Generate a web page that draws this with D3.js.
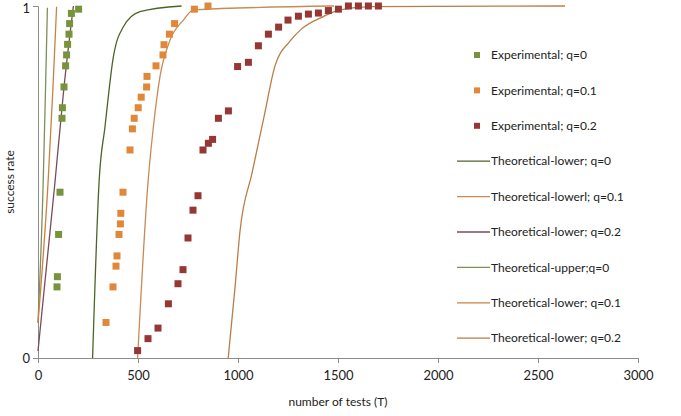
<!DOCTYPE html>
<html>
<head>
<meta charset="utf-8">
<script src="https://cdn.jsdelivr.net/npm/d3@7"></script>
<style>
  body { margin: 0; background: #fff; }
  text { font-family: Lato, "Open Sans", sans-serif; }
</style>
</head>
<body>
<svg id="chart" width="681" height="416"></svg>
<script>
// experimental points [tests, success rate]
var expQ0 = [[203,0.991],[167,0.979],[158,0.950],[155,0.920],[148,0.891],[143,0.861],[138,0.830],
    [130,0.770],[122,0.711],[120,0.681],[110,0.471],[103,0.351],[97,0.231],[95,0.202]];
var expQ01 = [[850,1.0],[782,0.991],[683,0.950],[657,0.920],[630,0.890],[625,0.861],[590,0.830],
    [545,0.800],[543,0.770],[516,0.741],[501,0.711],[481,0.681],[472,0.651],[460,0.591],
    [425,0.471],[414,0.411],[412,0.381],[405,0.351],[395,0.290],[390,0.261],[375,0.202],[340,0.101]];
var expQ02 = [[498,0.021],[550,0.055],[600,0.085],[652,0.154],[700,0.211],[725,0.251],[750,0.341],
    [775,0.420],[800,0.461],[825,0.591],[852,0.610],[873,0.621],[902,0.681],[952,0.702],
    [998,0.828],[1052,0.840],[1102,0.887],[1152,0.920],[1203,0.940],[1250,0.960],[1302,0.971],
    [1352,0.977],[1402,0.980],[1452,0.987],[1502,0.991],[1552,1.0],[1602,1.0],[1652,1.0],[1702,1.0]];

// theoretical curves
var lowerQ0 = [[273,0],[306,0.506],[335,0.657],[377,0.856],[427,0.941],[510,0.984],[718,1.0]];
var lowerlQ01 = [[498,0],[551,0.506],[577,0.657],[610,0.8],[660,0.903],[727,0.96],[777,0.989],[1480,1.0]];
var lowerQ02a = [[0,0.02],[85,0.5],[130,0.77],[177,1.0]];
var upperQ0 = [[0,0.1],[26,0.5],[37,0.75],[47,0.995]];
var lowerQ01 = [[0,0.1],[51,0.506],[75,0.77],[93,0.998]];
var lowerQ02b = [[951,0],[985,0.2],[1010,0.36],[1070,0.525],[1130,0.685],[1185,0.83],[1260,0.9],
    [1318,0.935],[1427,0.97],[1510,0.989],[1677,0.998],[2635,1.0]];

var xTicks = [0, 500, 1000, 1500, 2000, 2500, 3000];
var yTicks = [0, 1];

var legendNames = ['Experimental; q=0', 'Experimental; q=0.1', 'Experimental; q=0.2',
    'Theoretical-lower; q=0', 'Theoretical-lowerl; q=0.1', 'Theoretical-lower; q=0.2',
    'Theoretical-upper;q=0', 'Theoretical-lower; q=0.1', 'Theoretical-lower; q=0.2'];

var svg = d3.select('#chart');
var x = d3.scaleLinear().domain([0, 3000]).range([38, 638]);
var y = d3.scaleLinear().domain([0, 1]).range([358, 6]);

var scatters = [
    {name: legendNames[0], data: expQ0, color: '#77933c'},
    {name: legendNames[1], data: expQ01, color: '#e0873a'},
    {name: legendNames[2], data: expQ02, color: '#953735'}
];
var lines = [
    {name: legendNames[3], data: lowerQ0, color: '#4f6228'},
    {name: legendNames[4], data: lowerlQ01, color: '#c98a55'},
    {name: legendNames[5], data: lowerQ02a, color: '#7b4a5c'},
    {name: legendNames[6], data: upperQ0, color: '#7f8f5a'},
    {name: legendNames[7], data: lowerQ01, color: '#c8823e'},
    {name: legendNames[8], data: lowerQ02b, color: '#b97d48'}
];

// axes
var axisColor = '#8c8c8c';
var xAxis = svg.append('g')
    .attr('transform', 'translate(0,358)')
    .call(d3.axisBottom(x).tickValues(xTicks).tickSizeOuter(0).tickSize(5).tickPadding(8).tickFormat(d3.format('d')));
var yAxis = svg.append('g')
    .attr('transform', 'translate(38,0)')
    .call(d3.axisLeft(y).tickValues(yTicks).tickSizeOuter(0).tickSize(5).tickPadding(3).tickFormat(d3.format('d')));
[xAxis, yAxis].forEach(function(a) {
    a.attr('font-size', null).attr('font-family', null);
    a.select('.domain').attr('stroke', axisColor);
    a.selectAll('.tick line').attr('stroke', axisColor);
    a.selectAll('.tick text').attr('fill', '#222').style('font-size', '13px');
});
// keep the top "1" inside the picture
yAxis.selectAll('.tick text').attr('dy', d => d === 1 ? '0.5em' : '0.35em');

svg.append('text')
    .attr('x', 338).attr('y', 406)
    .attr('text-anchor', 'middle')
    .style('font-size', '12px')
    .attr('fill', '#222')
    .text('number of tests (T)');
svg.append('text')
    .attr('transform', 'translate(14,182) rotate(-90)')
    .attr('text-anchor', 'middle')
    .style('font-size', '12px')
    .attr('fill', '#222')
    .text('success rate');

// theoretical lines, smoothed like the spreadsheet
var line = d3.line().curve(d3.curveMonotoneX).x(d => x(d[0])).y(d => y(d[1]));
svg.append('g').selectAll('path')
    .data(lines)
    .join('path')
    .attr('fill', 'none')
    .attr('stroke', d => d.color)
    .attr('stroke-width', 1.3)
    .attr('d', d => line(d.data));

// experimental squares
scatters.forEach(function(s) {
    svg.append('g').selectAll('rect')
        .data(s.data)
        .join('rect')
        .attr('x', d => x(d[0]) - 3.5)
        .attr('y', d => y(d[1]) - 3.5)
        .attr('width', 7)
        .attr('height', 7)
        .attr('fill', s.color);
});

// legend
var legend = svg.append('g')
    .selectAll('g')
    .data(scatters.concat(lines))
    .join('g')
    .attr('transform', (d, i) => `translate(0,${55 + i * 35.4})`);
legend.filter((d, i) => i < 3).append('rect')
    .attr('x', 474).attr('y', -3).attr('width', 6).attr('height', 6)
    .attr('fill', d => d.color);
legend.filter((d, i) => i >= 3).append('line')
    .attr('x1', 457).attr('x2', 490)
    .attr('stroke', d => d.color)
    .attr('stroke-width', 1.3);
legend.append('text')
    .attr('x', 491).attr('dy', '0.35em')
    .style('font-size', '12px')
    .attr('fill', '#222')
    .text(d => d.name);
</script>
</body>
</html>
